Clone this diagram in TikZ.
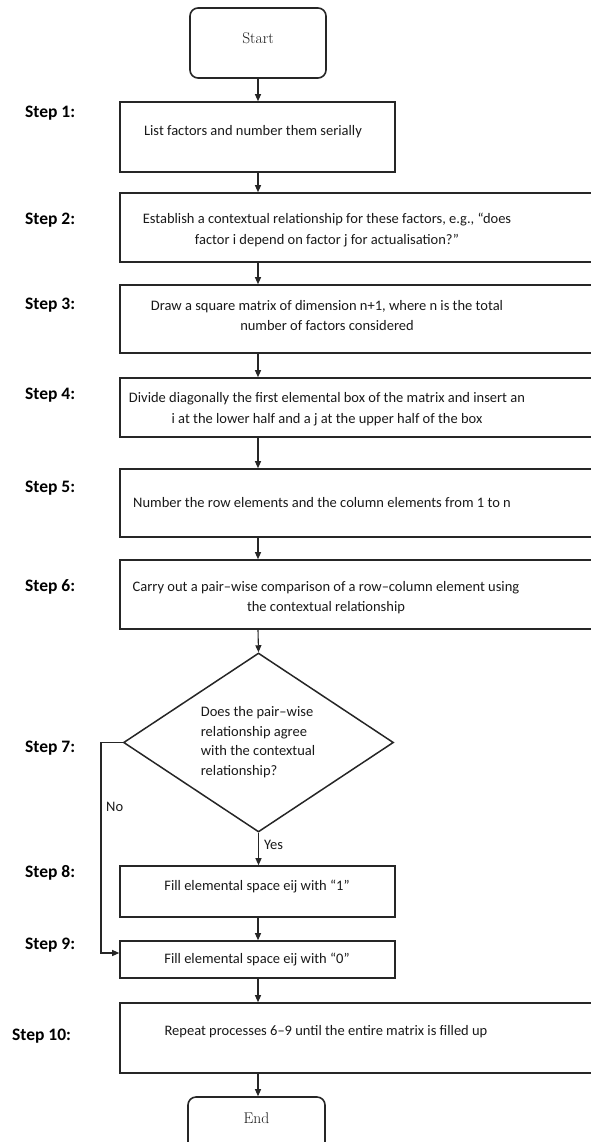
\documentclass[tikz,border=0pt]{standalone}
\usepackage{fontspec}
\newfontfamily\calfont{Carlito}
\usetikzlibrary{shapes.geometric,arrows.meta,calc}
\begin{document}
\begin{tikzpicture}[x=1pt,y=-1pt,
  box/.style={draw=black!85, line width=1.6pt, rectangle, inner sep=0pt},
  rbox/.style={box, rounded corners=8pt},
  dia/.style={draw=black!85, line width=1.5pt, diamond, inner sep=0pt, minimum width=270pt, minimum height=179pt},
  txt/.style={font=\calfont\fontsize{14.5}{20.5}\selectfont, align=center, text=black!90, inner sep=0pt},
  sertxt/.style={font=\fontsize{15.5}{17}\selectfont, text=black!90, inner sep=0pt},
  steplbl/.style={font=\calfont\bfseries\fontsize{17.5}{20}\selectfont, anchor=west, inner sep=0pt, text=black},
  arr/.style={-{Triangle[length=7pt,width=6pt]}, line width=1.1pt, draw=black!85},
  ]
\useasboundingbox (0,0) rectangle (591,1142);
\clip (0,0) rectangle (591,1142);
\coordinate (spine) at (258,0);

% boxes
\node[rbox, minimum width=136pt, minimum height=70pt] (start) at (258,43) {};
\node[box, minimum width=275pt, minimum height=70pt] (b1) at (257.5,137) {};
\node[box, minimum width=520pt, minimum height=69pt] (b2) at (380,227.5) {};
\node[box, minimum width=520pt, minimum height=68pt] (b3) at (380,319) {};
\node[box, minimum width=520pt, minimum height=59pt] (b4) at (380,407.5) {};
\node[box, minimum width=520pt, minimum height=68pt] (b5) at (380,503) {};
\node[box, minimum width=520pt, minimum height=69pt] (b6) at (380,594.5) {};
\node[dia] (d) at (258.5,742.5) {};
\node[box, minimum width=275pt, minimum height=51pt] (b8) at (257.5,891.5) {};
\node[box, minimum width=275pt, minimum height=37pt] (b9) at (257.5,959.5) {};
\node[box, minimum width=520pt, minimum height=70pt] (b10) at (380,1038) {};
\node[rbox, minimum width=137pt, minimum height=70pt] (end) at (256.5,1132) {};

% texts
\node[sertxt] (tstart) at (258,38) {Start};
\node[txt] (t1) at (253,132) {List factors and number them serially};
\node[txt] (t2) at (327,230) {Establish a contextual relationship for these factors, e.g., “does\\factor i depend on factor j for actualisation?”};
\node[txt] (t3) at (327,315.5) {Draw a square matrix of dimension n+1, where n is the total\\number of factors considered};
\node[txt] (t4) at (327,409) {Divide diagonally the first elemental box of the matrix and insert an\\i at the lower half and a j at the upper half of the box};
\node[txt] (t5) at (322,503) {Number the row elements and the column elements from 1 to n};
\node[txt] (t6) at (326,597.5) {Carry out a pair–wise comparison of a row–column element using\\the contextual relationship};
\node[txt, align=left, font=\calfont\fontsize{14.5}{19.7}\selectfont] (t7) at (258,742) {Does the pair–wise\\relationship agree\\with the contextual\\relationship?};
\node[txt] (t8) at (257,887) {Fill elemental space eij with “1”};
\node[txt] (t9) at (257,960) {Fill elemental space eij with “0”};
\node[txt] (t10) at (326,1032) {Repeat processes 6–9 until the entire matrix is filled up};
\node[sertxt] (tend) at (256.5,1118) {End};

% step labels
\node[steplbl] (s1) at (25,113) {Step 1:};
\node[steplbl] (s2) at (25,220) {Step 2:};
\node[steplbl] (s3) at (25,305) {Step 3:};
\node[steplbl] (s4) at (25,395) {Step 4:};
\node[steplbl] (s5) at (25,488) {Step 5:};
\node[steplbl] (s6) at (25,587) {Step 6:};
\node[steplbl] (s7) at (25,748) {Step 7:};
\node[steplbl] (s8) at (25,873) {Step 8:};
\node[steplbl] (s9) at (25,945) {Step 9:};
\node[steplbl] (s10) at (12,1036) {Step 10:};

% connectors
\draw[arr] (start.south) -- (start.south |- b1.north);
\draw[arr] (spine |- b1.south) -- (spine |- b2.north);
\draw[arr] (spine |- b2.south) -- (spine |- b3.north);
\draw[arr] (spine |- b3.south) -- (spine |- b4.north);
\draw[arr] (spine |- b4.south) -- (spine |- b5.north);
\draw[arr] (spine |- b5.south) -- (spine |- b6.north);
\draw[arr] (spine |- b6.south) -- (d.north);
\draw[arr] (d.south) -- (d.south |- b8.north);
\draw[arr] (spine |- b8.south) -- (spine |- b9.north);
\draw[arr] (spine |- b9.south) -- (spine |- b10.north);
\draw[arr] (spine |- b10.south) -- (spine |- end.north);
\coordinate (nocorner) at (101,742.5);
\draw[arr] (d.west) -- (nocorner) |- ([yshift=6.5pt]b9.west);
\node[txt, anchor=west] (lno) at (106,807) {No};
\node[txt, anchor=west] (lyes) at (264,845) {Yes};
\end{tikzpicture}
\end{document}
